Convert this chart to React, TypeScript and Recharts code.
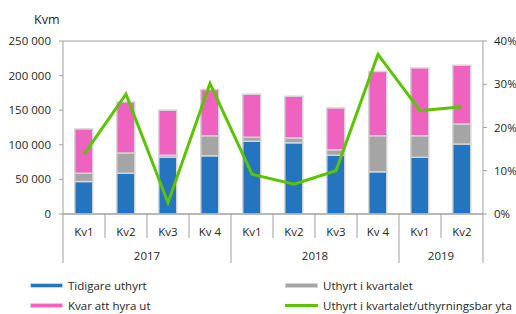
import React from "react";
import {
  ComposedChart,
  Bar,
  Line,
  XAxis,
  YAxis,
  CartesianGrid,
} from "recharts";

const quarters = ["Kv1", "Kv2", "Kv3", "Kv 4", "Kv1", "Kv2", "Kv3", "Kv 4", "Kv1", "Kv2"];
const years = ["2017", "2018", "2019"];
const tidigareUthyrt = [47000, 59000, 82000, 84000, 105000, 103000, 85000, 61000, 82000, 101000];
const uthyrtIKvartalet = [12000, 29000, 3000, 29000, 6000, 7000, 8000, 52000, 31000, 29000];
const kvarAttHyraUt = [64000, 74000, 65000, 67000, 62000, 60000, 60000, 93000, 98000, 85000];
const uthyrtAndel = [0.138, 0.277, 0.026, 0.302, 0.092, 0.069, 0.1, 0.369, 0.239, 0.248];
const leftTicks = [0, 50000, 100000, 150000, 200000, 250000];
const rightTicks = [0, 0.1, 0.2, 0.3, 0.4];

const data = quarters.map((q, i) => ({
  q,
  idx: i,
  tidigare: tidigareUthyrt[i],
  uthyrt: uthyrtIKvartalet[i],
  kvar: kvarAttHyraUt[i],
  andel: uthyrtAndel[i],
}));

const FONT = "'Open Sans', 'Noto Sans', sans-serif";
const TXT = "#262626";
const AXIS = "#a0a0a0";
const BLUE = "#2474c0";
const GRAY = "#a5a5a5";
const PINK = "#f062bf";
const GREEN = "#5cc300";
const BORDER = "#d4d4d4";

const fmtThousands = (v: number) =>
  v === 0 ? "0" : String(v).replace(/\B(?=(\d{3})+(?!\d))/g, " ");

const yearAt: Record<number, string> = { 1: years[0], 5: years[1], 8: years[2] };
const fullSep = new Set([0, 4, 8]);

const XTick = (props: any) => {
  const { x, y, payload } = props;
  const i = payload.index as number;
  const half = 21;
  const base = 214;
  const els: any[] = [];
  els.push(
    <line key="l" x1={x - half} x2={x - half} y1={base} y2={fullSep.has(i) ? 263 : 238} stroke={AXIS} strokeWidth={1} />
  );
  if (i === quarters.length - 1) {
    els.push(<line key="r" x1={x + half} x2={x + half} y1={base} y2={263} stroke={AXIS} strokeWidth={1} />);
  }
  els.push(
    <text key="t" x={x} y={236} textAnchor="middle" fontSize={11.5} fill={TXT} fontFamily={FONT}>
      {quarters[i]}
    </text>
  );
  if (yearAt[i]) {
    els.push(
      <text key="y" x={x + half} y={260} textAnchor="middle" fontSize={11.5} fill={TXT} fontFamily={FONT}>
        {yearAt[i]}
      </text>
    );
  }
  return <g>{els}</g>;
};

const LegendItem = ({ left, top, color, label, line }: any) => (
  <div style={{ position: "absolute", left, top, display: "flex", alignItems: "center", height: 14 }}>
    <div
      style={{
        width: 33,
        height: line ? 3 : 5,
        background: color,
        border: line ? "none" : `1px solid ${BORDER}`,
        boxSizing: "border-box",
        marginRight: 5,
      }}
    />
    <span style={{ fontFamily: FONT, fontSize: 11.5, color: TXT, whiteSpace: "nowrap" }}>{label}</span>
  </div>
);

export default function App() {
  return (
    <div style={{ position: "absolute", left: 0, top: 0, width: 516, height: 314, background: "#fff" }}>
      <div style={{ position: "absolute", left: 34, top: 11, fontFamily: FONT, fontSize: 12.5, color: TXT }}>Kvm</div>
      <ComposedChart
        width={516}
        height={314}
        data={data}
        margin={{ top: 41, right: 0, bottom: 0, left: 0 }}
        barCategoryGap="28%"
      >
        <CartesianGrid horizontal vertical={false} stroke={AXIS} strokeWidth={1} />
        <XAxis
          dataKey="idx"
          xAxisId="x"
          height={100}
          axisLine={{ stroke: AXIS }}
          tickLine={false}
          tickSize={0}
          tickMargin={0}
          interval={0}
          tick={<XTick />}
        />
        <YAxis
          yAxisId="left"
          width={63}
          domain={[0, 250000]}
          ticks={leftTicks}
          tickFormatter={fmtThousands}
          axisLine={{ stroke: AXIS }}
          tickLine={{ stroke: AXIS }}
          tickSize={4}
          tickMargin={8}
          tick={{ fontSize: 11.5, fill: TXT, fontFamily: FONT }}
          interval={0}
        />
        <YAxis
          yAxisId="right"
          orientation="right"
          width={33}
          domain={[0, 0.4]}
          ticks={rightTicks}
          tickFormatter={(v: number) => `${Math.round(v * 100)}%`}
          axisLine={{ stroke: AXIS }}
          tickLine={{ stroke: AXIS }}
          tickSize={4}
          tickMargin={7}
          tick={{ fontSize: 11.5, fill: TXT, fontFamily: FONT }}
          interval={0}
        />
        <Bar xAxisId="x" yAxisId="left" dataKey="tidigare" stackId="a" fill={BLUE} stroke={BORDER} strokeWidth={1.5} isAnimationActive={false} />
        <Bar xAxisId="x" yAxisId="left" dataKey="uthyrt" stackId="a" fill={GRAY} stroke={BORDER} strokeWidth={1.5} isAnimationActive={false} />
        <Bar xAxisId="x" yAxisId="left" dataKey="kvar" stackId="a" fill={PINK} stroke={BORDER} strokeWidth={1.5} isAnimationActive={false} />
        <Line
          xAxisId="x"
          yAxisId="right"
          dataKey="andel"
          stroke={GREEN}
          strokeWidth={3}
          dot={false}
          type="linear"
          isAnimationActive={false}
        />
      </ComposedChart>
      <LegendItem left={30} top={278} color={BLUE} label="Tidigare uthyrt" />
      <LegendItem left={30} top={298} color={PINK} label="Kvar att hyra ut" />
      <LegendItem left={285} top={278} color={GRAY} label="Uthyrt i kvartalet" />
      <LegendItem left={285} top={298} color={GREEN} label="Uthyrt i kvartalet/uthyrningsbar yta" line />
    </div>
  );
}
